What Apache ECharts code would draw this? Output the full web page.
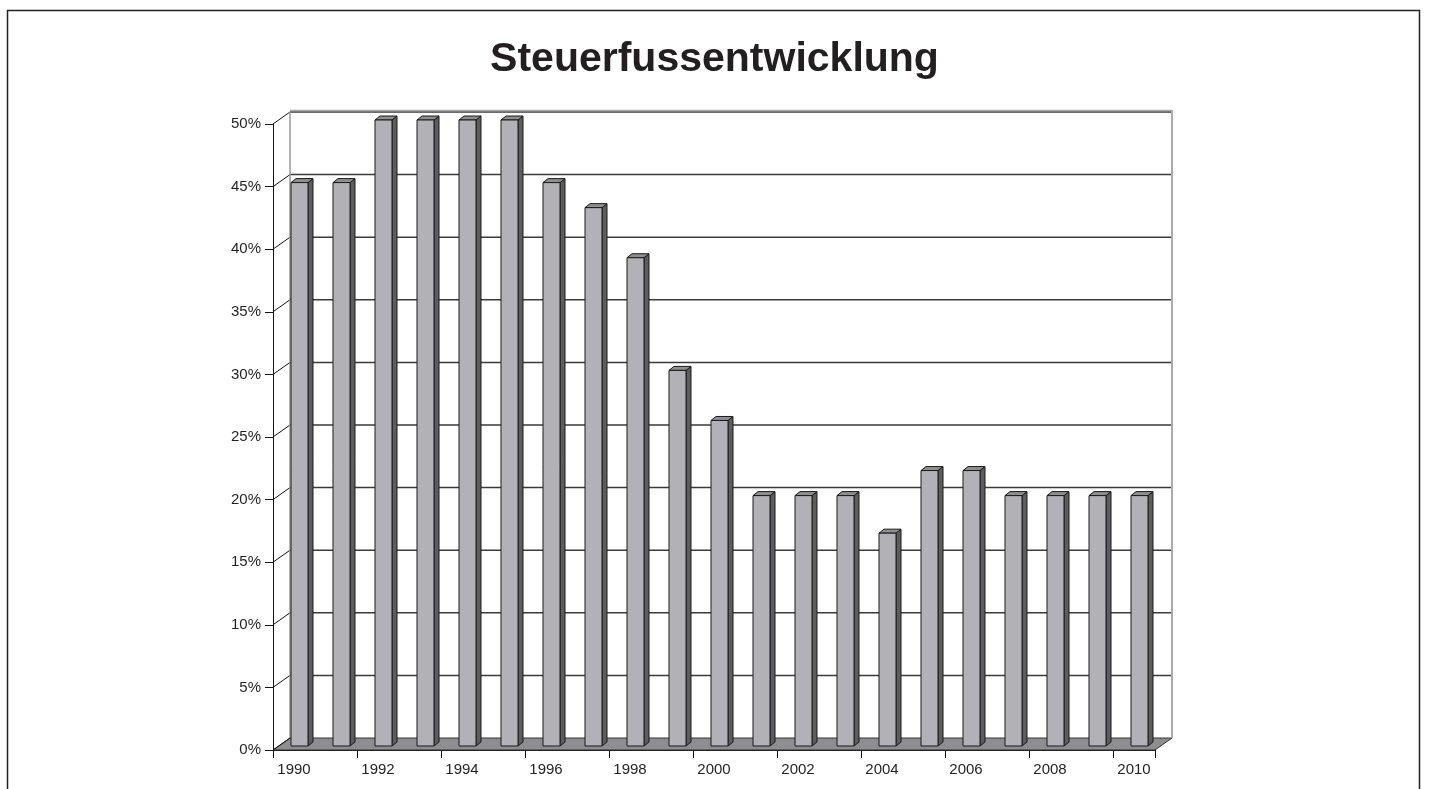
<!DOCTYPE html>
<html>
<head>
<meta charset="utf-8">
<script src="https://cdn.jsdelivr.net/npm/echarts@6/dist/echarts.min.js"></script>
<style>
html,body{margin:0;padding:0;background:#fff;}
#chart{width:1429px;height:789px;}
</style>
</head>
<body>
<div id="chart"></div>
<script>
const years = ['1990','1991','1992','1993','1994','1995','1996','1997','1998','1999','2000','2001','2002','2003','2004','2005','2006','2007','2008','2009','2010'];
const rates = [45,45,50,50,50,50,45,43,39,30,26,20,20,20,17,22,22,20,20,20,20];
const yTicks = [0,5,10,15,20,25,30,35,40,45,50];
const titleText = 'Steuerfussentwicklung';

const DX = 17, DY = -12;          // depth of the wall
const BX = 5.5, BY = -4;          // bar front face offset
const BW = 17, BD = 5, BDY = -4;  // bar width and bar depth

const chart = echarts.init(document.getElementById('chart'), null, {renderer: 'canvas'});

function edges(api, v) {
  const band = api.size([1, 0])[0];
  const l = api.coord([0, v]);
  const r = api.coord([years.length - 1, v]);
  return {xl: l[0] - band / 2, xr: r[0] + band / 2, y: l[1]};
}

const option = {
  animation: false,
  backgroundColor: '#fff',
  title: {
    text: titleText,
    left: 'center',
    top: 34,
    textStyle: {fontFamily: 'Liberation Sans', fontWeight: 'bold', fontSize: 41, color: '#231f20'}
  },
  graphic: [{
    type: 'rect', shape: {x: 7.5, y: 10.5, width: 1412, height: 800},
    style: {fill: null, stroke: '#222', lineWidth: 1.5}, silent: true, z: -10
  }],
  grid: {left: 273, right: 274, top: 124, bottom: 39},
  xAxis: {
    type: 'category',
    data: years,
    axisLine: {lineStyle: {color: '#111', width: 1}},
    axisTick: {show: true, length: 8, inside: false, lineStyle: {color: '#111'}},
    axisLabel: {interval: 1, margin: 12, fontFamily: 'Liberation Sans', fontSize: 15, color: '#231f20'},
    splitLine: {show: false}
  },
  yAxis: {
    type: 'value', min: 0, max: 50, interval: 5,
    axisLine: {show: true, lineStyle: {color: '#111', width: 1}},
    axisTick: {show: true, length: 8, lineStyle: {color: '#111'}},
    axisLabel: {formatter: '{value}%', margin: 12, fontFamily: 'Liberation Sans', fontSize: 15, color: '#231f20'},
    splitLine: {show: false}
  },
  series: [
    { // floor
      type: 'custom', clip: false, z: 1,
      data: [[0, 0]],
      renderItem: function (params, api) {
        const e = edges(api, 0);
        return {
          type: 'polygon',
          shape: {points: [[e.xl, e.y], [e.xr, e.y], [e.xr + DX, e.y + DY], [e.xl + DX, e.y + DY]]},
          style: {fill: '#8e8e90', stroke: '#333', lineWidth: 1}
        };
      }
    },
    { // back wall grid lines and side diagonals
      type: 'custom', clip: false, z: 2,
      data: yTicks.map(v => [0, v]),
      renderItem: function (params, api) {
        const v = api.value(1);
        const e = edges(api, v);
        const children = [];
        children.push({type: 'line', shape: {x1: e.xl, y1: e.y, x2: e.xl + DX, y2: e.y + DY},
          style: {stroke: '#111', lineWidth: 1}});
        if (v > 0) {
          children.push({type: 'line', shape: {x1: e.xl + DX, y1: e.y + DY, x2: e.xr + DX, y2: e.y + DY},
            style: {stroke: '#3a3a3a', lineWidth: 1.5}});
        }
        if (v === yTicks[yTicks.length - 1]) {
          const b = edges(api, 0);
          children.push({type: 'line', shape: {x1: e.xl + DX, y1: e.y + DY - 1.5, x2: e.xr + DX, y2: e.y + DY - 1.5},
            style: {stroke: '#aaa', lineWidth: 1.5}});
          children.push({type: 'line', shape: {x1: e.xl + DX, y1: e.y + DY, x2: b.xl + DX, y2: b.y + DY},
            style: {stroke: '#999', lineWidth: 1.5}});
          children.push({type: 'line', shape: {x1: e.xr + DX, y1: e.y + DY - 2, x2: b.xr + DX, y2: b.y + DY},
            style: {stroke: '#aaa', lineWidth: 2}});
        }
        return {type: 'group', children: children};
      }
    },
    { // 3D bars
      type: 'custom', clip: false, z: 3,
      data: rates.map((v, i) => [i, v]),
      renderItem: function (params, api) {
        const c0 = api.coord([api.value(0), 0]);
        const c1 = api.coord([api.value(0), api.value(1)]);
        const x1 = c0[0] + BX - BW / 2, x2 = x1 + BW;
        const yb = c0[1] + BY, yt = c1[1] + BY;
        const st = {stroke: '#1a1a1a', lineWidth: 1, lineJoin: 'round'};
        return {
          type: 'group',
          children: [
            {type: 'polygon', shape: {points: [[x2, yt], [x2 + BD, yt + BDY], [x2 + BD, yb + BDY], [x2, yb]]},
              style: Object.assign({fill: '#5d5d5f'}, st)},
            {type: 'polygon', shape: {points: [[x1, yt], [x1 + BD, yt + BDY], [x2 + BD, yt + BDY], [x2, yt]]},
              style: Object.assign({fill: '#8f8f91'}, st)},
            {type: 'rect', shape: {x: x1, y: yt, width: BW, height: yb - yt},
              style: Object.assign({fill: '#b2b2b6'}, st)}
          ]
        };
      }
    }
  ]
};
chart.setOption(option);
</script>
</body>
</html>
